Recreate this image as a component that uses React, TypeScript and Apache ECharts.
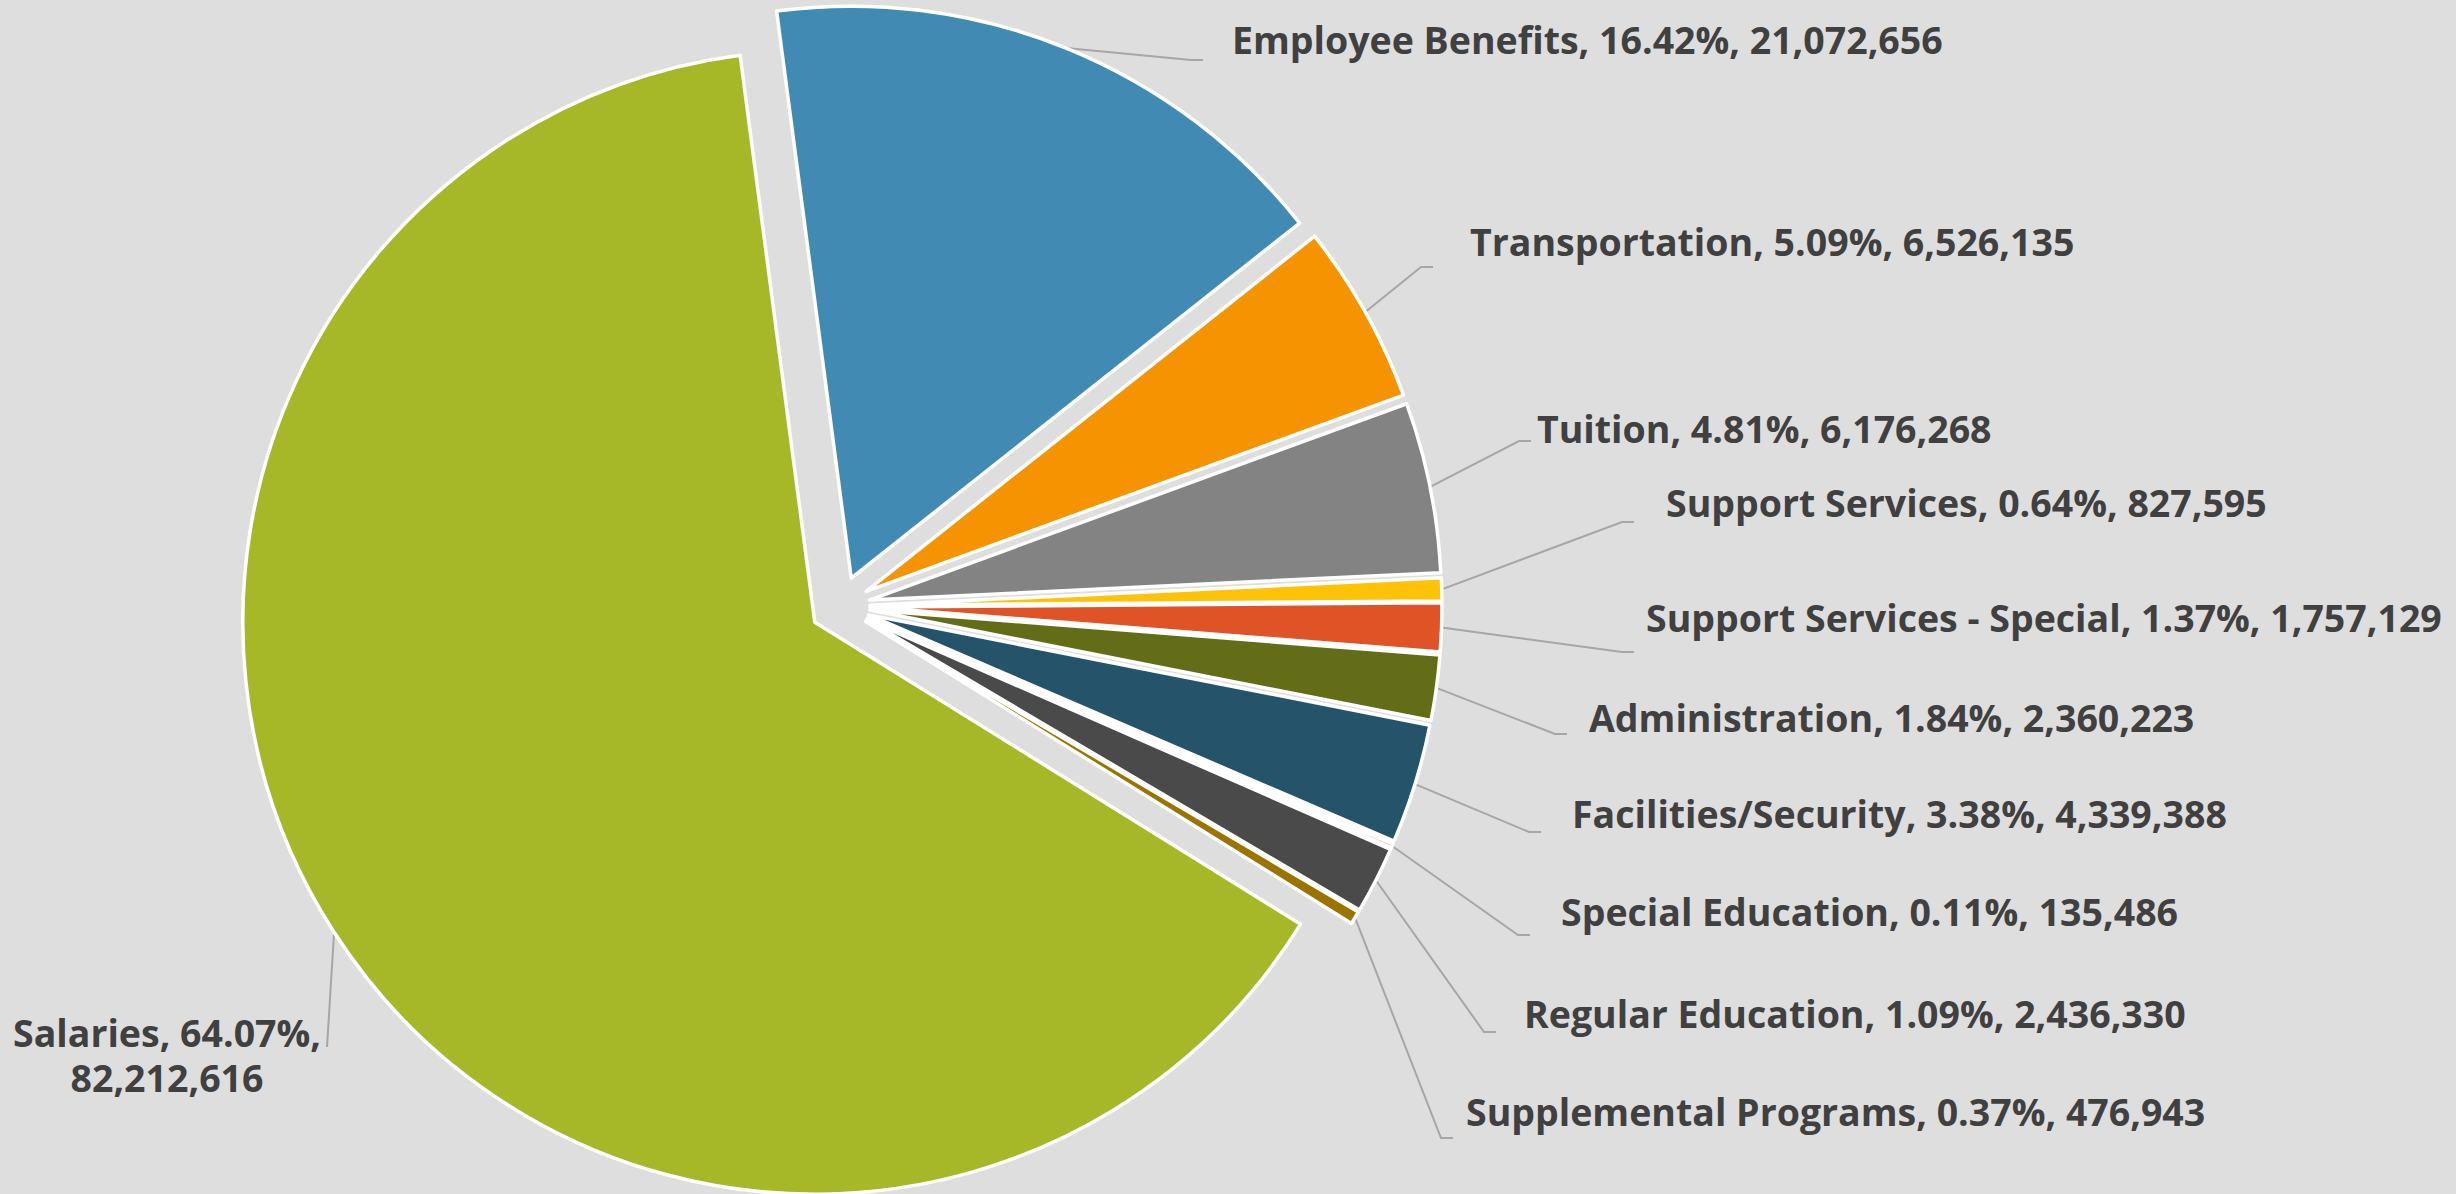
import React, { useEffect, useRef } from "react";
import * as echarts from "echarts";

// ---- data (clockwise from the top) ----
const categories = [
  "Employee Benefits",
  "Transportation",
  "Tuition",
  "Support Services",
  "Support Services - Special",
  "Administration",
  "Facilities/Security",
  "Special Education",
  "Regular Education",
  "Supplemental Programs",
  "Salaries",
];
const amounts = [
  21072656, 6526135, 6176268, 827595, 1757129, 2360223, 4339388, 135486,
  2436330, 476943, 82212616,
];
const percentLabels = [
  "16.42%", "5.09%", "4.81%", "0.64%", "1.37%", "1.84%", "3.38%", "0.11%",
  "1.09%", "0.37%", "64.07%",
];

// ---- styling ----
const sliceColors = [
  "#418AB3", "#F59300", "#838383", "#FEC306", "#DF5327", "#636D17",
  "#255369", "#A0620E", "#4A4A4A", "#9B7400", "#A6B727",
];

// label placement in page px: [textX, textY, lineEndX, lineEndY]
const labelSpots: number[][] = [
  [1232, 39, 1203, 60],
  [1470, 241, 1433, 267],
  [1537, 428, 1531, 441],
  [1666, 502, 1634, 522],
  [1646, 617, 1634, 652],
  [1589, 717, 1567, 734],
  [1572, 813, 1541, 832],
  [1561, 911, 1530, 935],
  [1524, 1013, 1496, 1032],
  [1466, 1111, 1453, 1138],
  [167, 1055, 327, 1047],
];

const CENTER = [840, 606];
const RADIUS = 572;
const EXPLODE = 30;
const START = 97.5;

const fmt = (v: number) => v.toLocaleString("en-US");

export default function App() {
  const ref = useRef<HTMLDivElement>(null);
  useEffect(() => {
    if (!ref.current) return;
    const chart = echarts.init(ref.current, undefined, { renderer: "svg" });
    const sliceData = categories.map((name, i) => ({
      name,
      value: amounts[i],
      selected: true,
      itemStyle: { color: sliceColors[i] },
    }));
    const labelData = categories.map((name, i) => ({
      name,
      value: amounts[i],
    }));
    chart.setOption({
      animation: false,
      backgroundColor: "#DEDEDE",
      series: [
        {
          type: "pie",
          center: CENTER,
          radius: RADIUS,
          startAngle: START,
          clockwise: true,
          selectedMode: "multiple",
          selectedOffset: EXPLODE,
          data: sliceData,
          itemStyle: { borderColor: "#FFFFFF", borderWidth: 3.5 },
          select: {
            itemStyle: { borderColor: "#FFFFFF", borderWidth: 3.5 },
          },
          emphasis: { disabled: true },
          label: { show: false },
          labelLine: { show: false },
        },
        {
          type: "pie",
          center: CENTER,
          radius: RADIUS + EXPLODE,
          startAngle: START,
          clockwise: true,
          silent: true,
          selectedMode: false,
          avoidLabelOverlap: false,
          data: labelData,
          itemStyle: { color: "rgba(0,0,0,0)", borderWidth: 0 },
          emphasis: { disabled: true },
          label: {
            show: true,
            position: "outside",
            color: "#404040",
            fontFamily: "Open Sans",
            fontWeight: "bold",
            fontSize: 37.5,
            lineHeight: 45,
            formatter: (p: any) =>
              p.name === "Salaries"
                ? `${p.name}, ${percentLabels[p.dataIndex]},\n${fmt(p.value)}`
                : `${p.name}, ${percentLabels[p.dataIndex]}, ${fmt(p.value)}`,
          },
          labelLine: {
            show: true,
            lineStyle: { color: "#A6A6A6", width: 2 },
          },
          labelLayout: (params: any) => {
            const s = labelSpots[params.dataIndex];
            const p0 = params.labelLinePoints
              ? params.labelLinePoints[0]
              : [s[2], s[3]];
            const isLeft = s[0] < 600;
            return {
              x: s[0],
              y: s[1],
              align: isLeft ? "center" : "left",
              verticalAlign: "middle",
              labelLinePoints: isLeft
                ? [p0, [s[2], s[3]], [s[2], s[3]]]
                : [p0, [s[2] - 12, s[3]], [s[2], s[3]]],
            };
          },
        },
      ],
    });
    return () => chart.dispose();
  }, []);
  return (
    <div
      ref={ref}
      style={{ position: "fixed", left: 0, top: 0, width: "2456px", height: "1194px" }}
    />
  );
}
